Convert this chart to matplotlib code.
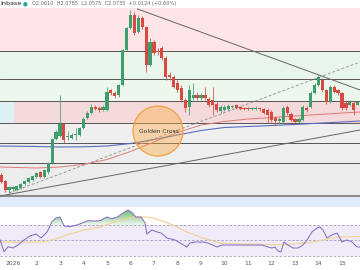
import numpy as np
import matplotlib
matplotlib.use('Agg')
import matplotlib.pyplot as plt
from matplotlib.patches import Ellipse
from matplotlib.path import Path
from matplotlib.colors import LinearSegmentedColormap

# 4h candles, time axis in days since 1 Jan 2026
candle_t = np.arange(-3, 89) / 6.0
opens = [1.710, 1.680, 1.635, 1.640, 1.635, 1.645, 1.665, 1.675, 1.685, 1.700,
         1.725, 1.700, 1.725, 1.770, 1.890, 1.905, 1.965, 1.900, 1.895, 1.910,
         1.910, 1.945, 1.995, 2.020, 2.050, 2.045, 2.035, 2.035, 2.135, 2.120,
         2.110, 2.160, 2.335, 2.445, 2.510, 2.425, 2.495, 2.450, 2.260, 2.375,
         2.330, 2.345, 2.295, 2.210, 2.200, 2.170, 2.145, 2.085, 2.050, 2.095,
         2.110, 2.095, 2.110, 2.090, 2.085, 2.065, 2.030, 2.035, 2.040, 2.050,
         2.060, 2.050, 2.045, 2.045, 2.040, 2.040, 2.045, 2.040, 2.035, 2.025,
         1.995, 1.980, 1.975, 2.050, 2.015, 1.990, 1.975, 1.985, 2.045, 2.050,
         2.120, 2.160, 2.185, 2.135, 2.075, 2.150, 2.135, 2.120, 2.070, 2.060,
         2.070, 2.061]
highs = [1.720, 1.685, 1.655, 1.655, 1.660, 1.670, 1.685, 1.700, 1.710, 1.725,
         1.730, 1.740, 1.775, 1.895, 1.935, 2.110, 1.970, 1.930, 1.920, 1.945,
         1.950, 2.000, 2.030, 2.065, 2.060, 2.055, 2.060, 2.150, 2.140, 2.130,
         2.165, 2.340, 2.450, 2.535, 2.525, 2.510, 2.505, 2.455, 2.395, 2.385,
         2.345, 2.355, 2.305, 2.225, 2.210, 2.185, 2.160, 2.095, 2.160, 2.170,
         2.125, 2.120, 2.150, 2.100, 2.150, 2.075, 2.060, 2.060, 2.065, 2.060,
         2.065, 2.055, 2.050, 2.050, 2.050, 2.055, 2.050, 2.045, 2.045, 2.035,
         2.005, 2.000, 2.055, 2.060, 2.025, 1.995, 2.000, 2.060, 2.055, 2.130,
         2.170, 2.210, 2.195, 2.140, 2.160, 2.160, 2.140, 2.125, 2.080, 2.085,
         2.080, 2.0785]
lows = [1.670, 1.625, 1.620, 1.630, 1.630, 1.640, 1.660, 1.670, 1.680, 1.695,
        1.695, 1.695, 1.715, 1.765, 1.885, 1.900, 1.870, 1.885, 1.890, 1.885,
        1.905, 1.940, 1.990, 2.015, 2.035, 2.025, 2.030, 2.030, 2.110, 2.095,
        2.100, 2.155, 2.330, 2.440, 2.410, 2.420, 2.440, 2.225, 2.255, 2.310,
        2.310, 2.285, 2.185, 2.185, 2.145, 2.125, 2.075, 2.025, 2.010, 2.085,
        2.085, 2.085, 2.085, 2.050, 2.010, 2.025, 2.020, 2.030, 2.035, 2.045,
        2.040, 2.035, 2.035, 2.035, 2.035, 2.035, 2.030, 2.015, 1.970, 1.975,
        1.960, 1.970, 1.970, 2.010, 1.980, 1.970, 1.970, 1.980, 2.025, 2.045,
        2.115, 2.155, 2.125, 2.065, 2.070, 2.120, 2.110, 2.035, 2.035, 2.055,
        2.010, 2.0575]
closes = [1.675, 1.635, 1.650, 1.650, 1.655, 1.665, 1.680, 1.695, 1.705, 1.720,
          1.700, 1.735, 1.770, 1.890, 1.925, 1.965, 1.885, 1.905, 1.910, 1.915,
          1.945, 1.990, 2.020, 2.050, 2.040, 2.035, 2.050, 2.125, 2.120, 2.105,
          2.160, 2.335, 2.445, 2.510, 2.420, 2.495, 2.450, 2.260, 2.375, 2.320,
          2.325, 2.295, 2.200, 2.200, 2.150, 2.135, 2.085, 2.045, 2.135, 2.110,
          2.095, 2.110, 2.095, 2.060, 2.060, 2.035, 2.050, 2.050, 2.055, 2.055,
          2.045, 2.040, 2.040, 2.040, 2.045, 2.045, 2.040, 2.020, 2.010, 1.985,
          1.980, 1.990, 2.045, 2.020, 1.985, 1.975, 1.990, 2.050, 2.035, 2.120,
          2.160, 2.200, 2.135, 2.075, 2.150, 2.125, 2.120, 2.045, 2.045, 2.075,
          2.035, 2.0735]

# moving averages
ma_t = [-0.55, 1, 2, 3, 4, 5, 6, 7, 8, 9, 10, 11, 12, 13, 14, 14.77]
ma_fast = [1.750, 1.745, 1.750, 1.7625, 1.7875, 1.8275, 1.875, 1.9225, 1.960,
           1.9775, 1.990, 1.9975, 2.005, 2.0125, 2.020, 2.025]
ma_slow = [1.855, 1.8525, 1.850, 1.851, 1.855, 1.8675, 1.8875, 1.910, 1.9325,
           1.9475, 1.9525, 1.9575, 1.9625, 1.969, 1.975, 1.980]

# horizontal levels and zones
levels = [2.33, 2.19, 2.08, 1.97, 1.87, 1.77]
base_level = 1.605

# trendlines (t, price)
down_line = [(5.3, 2.540), (14.77, 2.135)]
up_line = [(-0.55, 1.605), (14.77, 1.935)]
dash_line = [(-0.17, 1.620), (14.77, 2.275)]

# RSI
rsi_t = [-0.55, -0.38, -0.21, 0, 0.21, 0.43, 0.72, 0.98, 1.19, 1.45,
         1.66, 1.83, 2.0, 2.17, 2.43, 2.72, 2.98, 3.19, 3.49, 3.70,
         4.0, 4.21, 4.47, 4.68, 4.89, 5.06, 5.23, 5.45, 5.62, 5.70,
         5.91, 6.13, 6.30, 6.55, 6.89, 7.11, 7.40, 7.53, 7.74, 8.09,
         8.30, 8.68, 8.89, 9.23, 9.66, 9.96, 10.21, 10.60, 10.85, 11.02,
         11.15, 11.28, 11.40, 11.53, 11.70, 11.91, 12.13, 12.34, 12.51, 12.72,
         12.94, 13.06, 13.19, 13.36, 13.57, 13.79, 14.0, 14.21, 14.43, 14.64, 14.77]
rsi = [50.5, 35.2, 41.7, 40, 43.9, 49.5, 55.7, 58.3, 53.1, 60.9,
       74.3, 79.1, 80.4, 68.7, 67.8, 70, 73, 75.6, 75.2, 75.6,
       80.4, 78.2, 80.8, 85.6, 89.5, 86.3, 80.4, 80.4, 72.6, 58.3,
       63.5, 60.9, 59.6, 53.1, 50.5, 46.5, 41.3, 46.5, 47.8, 47.8,
       46.5, 41.3, 43.9, 43.9, 43.9, 43.9, 43.9, 43.9, 41.3, 40,
       41.3, 36.1, 34.8, 47.8, 43.9, 40, 40, 43.9, 50.5, 60.9,
       66.1, 67.4, 63.5, 53.1, 57, 59.6, 47.8, 50.5, 47.8, 41.3, 41.3]
rsi_ma_t = [-0.55, 0.30, 1.36, 1.80, 2.30, 2.98, 3.70, 4.55, 5.11, 5.62, 5.96,
            6.47, 6.98, 7.40, 7.96, 8.38, 8.81, 9.23, 9.66, 10.51, 11.79,
            12.77, 13.36, 13.91, 14.77]
rsi_ma = [48, 47.8, 48, 52, 57, 63, 67.5, 76, 80.4, 80.4, 79.1,
          73.9, 67.4, 60.9, 54.4, 50.5, 46.5, 45.9, 45.2, 44.6, 44.6,
          47.8, 51.8, 54.4, 55]

day_ticks = list(range(15))
day_labels = ['2026'] + [str(d) for d in range(2, 16)]

XMIN, XMAX = -0.553, 14.766
UP, DOWN = '#3f9e6e', '#d84a40'

fig = plt.figure(figsize=(3.6, 2.7), dpi=100)
ax = fig.add_axes([0, 1 - 207 / 270, 1, 199 / 270])
ax.set_xlim(XMIN, XMAX)
ax.set_ylim(1.55, 2.545)
ax.axis('off')

# zones
ax.axhspan(levels[0], 2.6, color='#fde4e6', lw=0, zorder=0)
ax.axhspan(levels[1], levels[0], color='#e9f5ea', lw=0, zorder=0)
ax.axhspan(levels[2], levels[1], color='#eef7ee', lw=0, zorder=0)
ax.axhspan(levels[3], levels[2], xmin=0.039, color='#f4dadb', lw=0, zorder=0)
ax.axhspan(levels[3], levels[2], xmax=0.039, color='#ddf1f3', lw=0, zorder=0)
ax.axhspan(levels[4], levels[3], color='#efefef', lw=0, zorder=0)
ax.axhspan(levels[5], levels[4], color='#eeeeee', lw=0, zorder=0)
ax.axhspan(base_level, levels[5], color='#ececec', lw=0, zorder=0)
ax.axhspan(1.5, base_level, color='#e2eafa', lw=0, zorder=0)
for lv in levels:
    ax.axhline(lv, color='#555555', lw=0.7, zorder=1)
ax.axhline(base_level, color='#8c8c8c', lw=1.5, zorder=1)

# trendlines
for line, style in [(down_line, '-'), (up_line, '-'), (dash_line, '--')]:
    xs, ys = zip(*line)
    ax.plot(xs, ys, color='#666666' if style == '-' else '#9a9a9a',
            ls=style, lw=0.7, dashes=(3, 2) if style == '--' else (None, None),
            zorder=2)

ax.plot(ma_t, ma_fast, color='#e07b7b', lw=0.7, zorder=2)
ax.plot(ma_t, ma_slow, color='#5c6bc0', lw=0.8, zorder=2)

# candles
o = np.array(opens); c = np.array(closes)
h = np.array(highs); l = np.array(lows)
colors = np.where(c >= o, UP, DOWN)
ax.vlines(candle_t, l, h, colors=colors, lw=0.55, zorder=3)
body = np.maximum(np.abs(c - o), 0.004)
ax.bar(candle_t, body, bottom=np.minimum(o, c), width=0.135, color=colors,
       lw=0, zorder=4)

# golden cross marker
ax.add_patch(Ellipse((6.17, 1.93), width=50 / 23.5, height=0.25,
                     facecolor=(1.0, 0.66, 0.25, 0.4), edgecolor='#f2a243',
                     lw=0.9, zorder=5))
ax.text(6.21, 1.9275, 'Golden Cross', fontsize=4.3, color='#333333',
        ha='center', va='center', zorder=6)

# header
fig.text(0.001, 1 - 3.5 / 270, 'inbase', fontsize=4.6, color='#222222',
         va='center', ha='left')
fig.text(25 / 360, 1 - 3.5 / 270, '\u25cf', fontsize=4, color='#26a69a',
         va='center', ha='center')
fig.text(32 / 360, 1 - 3.5 / 270,
         'O2.0610  H2.0785  L2.0575  C2.0735  +0.0124 (+0.60%)',
         fontsize=3.6, color='#666666', va='center', ha='left')

# RSI pane
rax = fig.add_axes([0, 1 - 258 / 270, 1, 51 / 270])
rax.axhspan(30, 70, color='#efebf8', lw=0, zorder=0)
for lv in (70, 50, 30):
    rax.axhline(lv, color='#a59cc0', lw=0.6, ls=(0, (3, 2)), zorder=1)

r = np.array(rsi)
fill = rax.fill_between(rsi_t, r, 70, where=r > 70, interpolate=True,
                        color='none', lw=0)
paths = fill.get_paths()
if paths:
    clip = Path.make_compound_path(*paths)
    cmap = LinearSegmentedColormap.from_list('g', ['#eef8ee', '#62b866'])
    grad = np.linspace(0, 1, 100).reshape(-1, 1)
    img = rax.imshow(grad, extent=[XMIN, XMAX, 70, 90], origin='lower',
                     aspect='auto', cmap=cmap, zorder=2)
    img.set_clip_path(clip, transform=rax.transData)

rax.plot(rsi_ma_t, rsi_ma, color='#f3d39e', lw=0.9, zorder=3)
rax.plot(rsi_t, rsi, color='#7e6bc4', lw=0.7, zorder=4)

rax.set_xlim(XMIN, XMAX)
rax.set_ylim(27, 93.45)
rax.set_yticks([])
rax.set_xticks(day_ticks)
rax.set_xticklabels(day_labels)
rax.tick_params(axis='x', length=0, labelsize=4.3, pad=2, colors='#555555')
for s in rax.spines.values():
    s.set_visible(False)
rax.patch.set_alpha(0)

fig.savefig('out.png', dpi=100)
